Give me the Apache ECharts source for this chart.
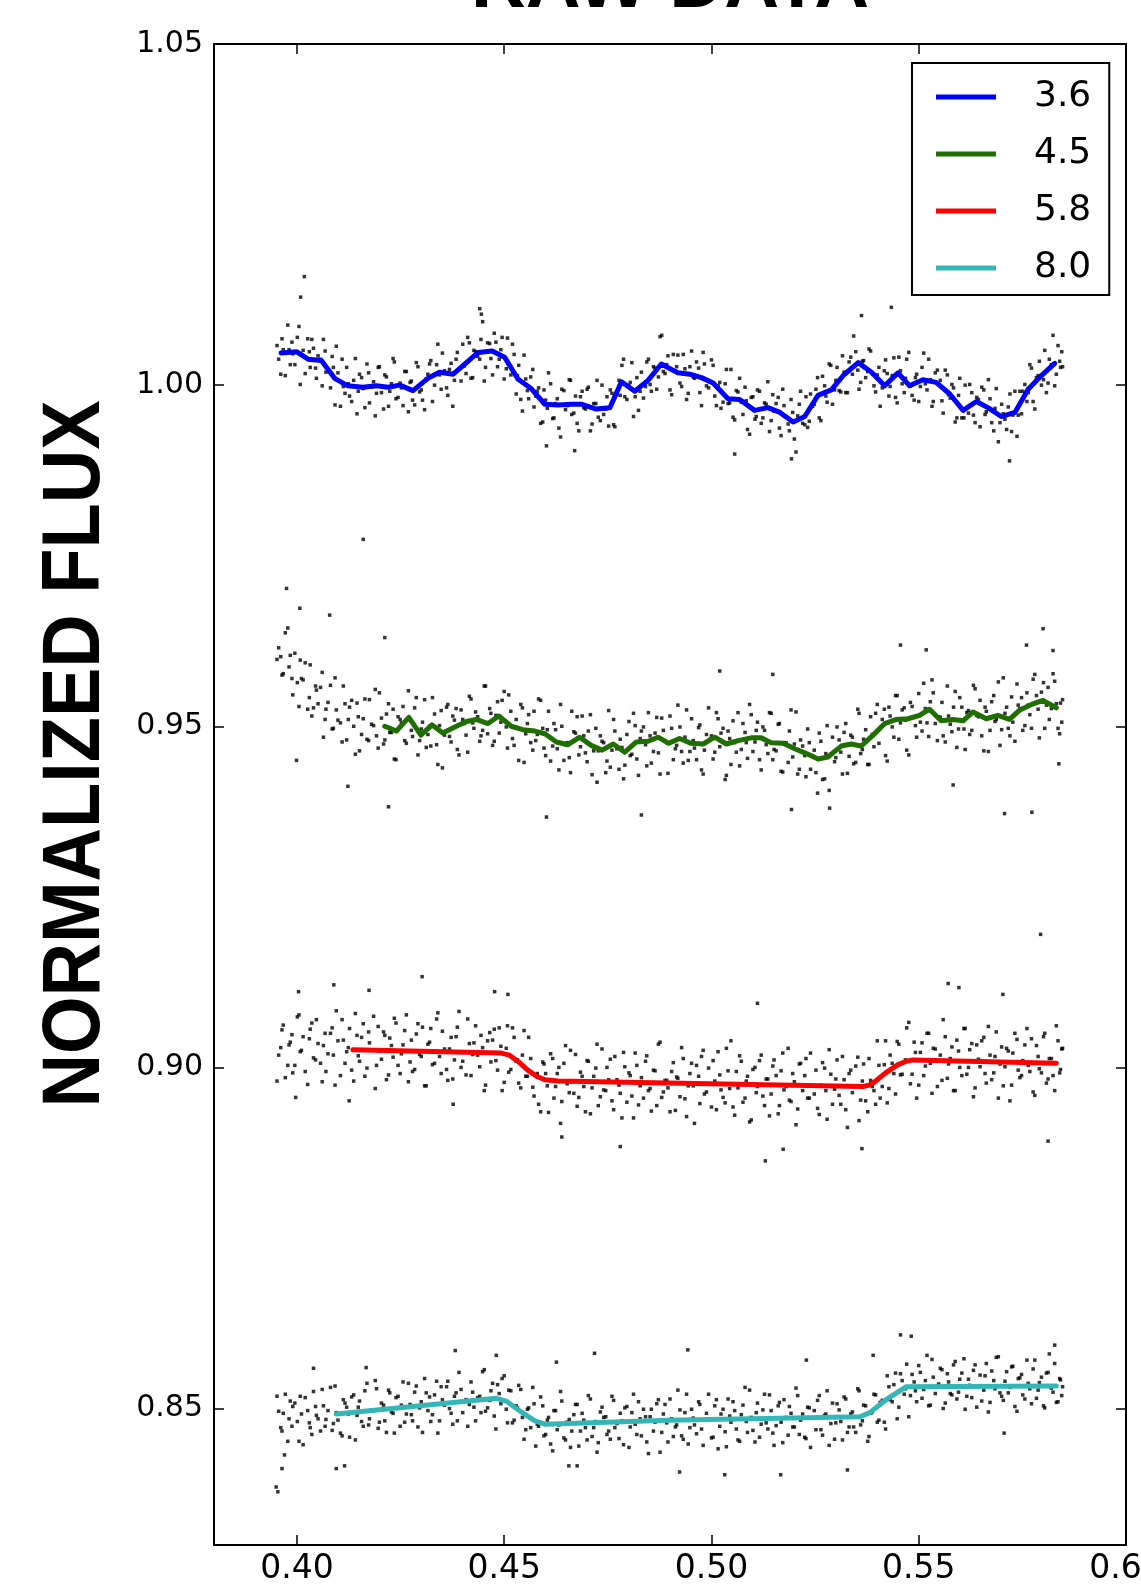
<!DOCTYPE html>
<html><head><meta charset="utf-8">
<script src="https://cdn.jsdelivr.net/npm/echarts@6/dist/echarts.min.js"></script>
<style>html,body{margin:0;padding:0;background:#fff}#chart{width:1141px;height:1592px}</style>
</head><body><div id="chart"></div>
<script>
// ---- tick labels ----
const xTicks = [0.40, 0.45, 0.50, 0.55, 0.60];
const yTicks = [0.85, 0.90, 0.95, 1.00, 1.05];
const bandNames = ['3.6', '4.5', '5.8', '8.0'];

// ---- raw photometry, first frame set: orbital phase (shared by all channels) ----
const phaseA = [
0.3952,0.3961,0.3967,0.3978,0.3984,0.3990,0.4001,0.4008,0.4015,0.4026,
0.4032,0.4040,0.4047,0.4057,0.4064,0.4070,0.4081,0.4088,0.4095,0.4105,
0.4112,0.4120,0.4127,0.4137,0.4145,0.4151,0.4160,0.4169,0.4175,0.4185,
0.4192,0.4199,0.4209,0.4216,0.4224,0.4232,0.4239,0.4249,0.4256,0.4264,
0.4273,0.4279,0.4288,0.4296,0.4303,0.4312,0.4320,0.4327,0.4337,0.4344,
0.4351,0.4361,0.4368,0.4376,0.4384,0.4391,0.4400,0.4408,0.4416,0.4424,
0.4431,0.4441,0.4448,0.4455,0.4465,0.4472,0.4480,0.4488,0.4495,0.4505,
0.4511,0.4520,0.4529,0.4535,0.4544,0.4552,0.4559,0.4569,0.4576,0.4583,
0.4593,0.4600,0.4607,0.4617,0.4624,0.4632,0.4639,0.4648,0.4657,0.4663,
0.4672,0.4680,0.4688,0.4696,0.4703,0.4712,0.4721,0.4727,0.4736,0.4745,
0.4752,0.4760,0.4767,0.4777,0.4784,0.4791,0.4801,0.4808,0.4816,0.4824,
0.4831,0.4841,0.4848,0.4855,0.4864,0.4872,0.4880,0.4888,0.4895,0.4904,
0.4913,0.4919,0.4928,0.4936,0.4944,0.4952,0.4959,0.4969,0.4976,0.4983,
0.4993,0.5000,0.5008,0.5016,0.5023,0.5033,0.5040,0.5047,0.5056,0.5064,
0.5072,0.5081,0.5087,0.5096,0.5105,0.5111,0.5120,0.5128,0.5136,0.5144,
0.5151,0.5161,0.5168,0.5175,0.5185,0.5192,0.5200,0.5208,0.5215,0.5225,
0.5232,0.5239,0.5248,0.5256,0.5264,0.5273,0.5279,0.5288,0.5297,0.5303,
0.5312,0.5320,0.5328,0.5336,0.5343,0.5353,0.5360,0.5367,0.5377,0.5384,
0.5392,0.5400,0.5407,0.5417,0.5424,0.5431,0.5440,0.5448,0.5456,0.5465,
0.5471,0.5480,0.5489,0.5495,0.5504,0.5512,0.5520,0.5528,0.5535,0.5545,
0.5552,0.5559,0.5569,0.5576,0.5584,0.5592,0.5599,0.5609,0.5616,0.5623,
0.5632,0.5640,0.5648,0.5657,0.5663,0.5672,0.5681,0.5687,0.5696,0.5704,
0.5712,0.5720,0.5727,0.5737,0.5744,0.5751,0.5761,0.5768,0.5776,0.5784,
0.5791,0.5801,0.5808,0.5815,0.5824,0.5832,0.5840,0.5847];

const flux36A = [
1.0058,1.0016,1.0052,1.0088,1.0030,1.0046,1.0070,1.0001,1.0051,1.0068,
1.0026,1.0054,1.0010,1.0038,1.0067,1.0019,0.9996,1.0026,1.0057,0.9969,
0.9998,1.0026,0.9984,1.0007,0.9958,1.0016,0.9995,1.0031,0.9974,1.0005,
0.9988,1.0027,0.9965,1.0012,0.9991,1.0039,0.9980,1.0003,0.9970,1.0020,
1.0004,0.9978,1.0033,0.9990,0.9978,1.0009,1.0031,0.9976,1.0030,1.0015,
1.0047,0.9996,1.0023,0.9969,1.0038,1.0023,1.0060,1.0017,1.0062,1.0011,
1.0049,1.0038,1.0093,1.0026,1.0061,1.0015,1.0063,1.0038,1.0070,1.0024,
1.0031,1.0060,0.9987,1.0029,0.9962,1.0009,0.9980,1.0023,0.9984,0.9996,
0.9946,0.9978,1.0018,0.9951,0.9973,0.9937,0.9994,0.9964,1.0008,0.9957,
0.9984,0.9933,0.9991,0.9965,0.9997,0.9943,0.9973,0.9953,1.0000,0.9965,
0.9940,0.9988,0.9939,1.0007,1.0029,0.9983,0.9999,1.0033,0.9983,0.9963,
1.0019,0.9998,1.0038,0.9991,1.0025,1.0012,1.0073,1.0017,1.0043,0.9986,
1.0021,1.0044,0.9998,1.0024,0.9988,1.0050,1.0010,1.0025,0.9970,1.0031,
0.9996,1.0037,0.9984,0.9999,0.9966,1.0002,0.9973,1.0023,0.9949,0.9990,
0.9975,0.9997,0.9935,0.9982,0.9950,0.9993,0.9944,0.9974,1.0005,0.9948,
0.9962,0.9982,0.9926,0.9970,0.9943,0.9979,0.9921,0.9955,0.9991,0.9942,
0.9938,0.9987,0.9972,1.0011,0.9948,0.9999,0.9975,1.0029,0.9993,1.0026,
0.9990,1.0019,0.9989,1.0041,1.0072,1.0022,1.0004,1.0036,1.0020,1.0050,
0.9999,1.0015,0.9969,1.0021,1.0017,0.9998,1.0040,0.9974,1.0021,0.9989,
1.0038,0.9999,0.9978,1.0016,0.9998,1.0047,0.9993,1.0008,0.9976,1.0022,
1.0007,0.9959,1.0015,0.9981,0.9996,0.9952,1.0010,0.9952,0.9967,1.0001,
0.9956,0.9982,0.9939,0.9993,0.9961,0.9980,0.9933,0.9995,0.9945,0.9958,
0.9935,0.9987,0.9956,0.9925,0.9991,0.9991,0.9976,1.0030,0.9976,1.0011,
1.0035,1.0008,0.9989,1.0038,1.0073,1.0016,1.0035,1.0027];

const flux45A = [
0.9598,0.9602,0.9577,0.9644,0.9604,0.9546,0.9564,0.9597,0.9568,0.9525,
0.9590,0.9527,0.9553,0.9557,0.9484,0.9525,0.9560,0.9497,0.9524,0.9505,
0.9559,0.9480,0.9528,0.9500,0.9534,0.9464,0.9511,0.9481,0.9539,0.9501,
0.9486,0.9549,0.9474,0.9518,0.9491,0.9525,0.9451,0.9510,0.9529,0.9475,
0.9510,0.9485,0.9542,0.9479,0.9506,0.9469,0.9500,0.9542,0.9473,0.9501,
0.9439,0.9528,0.9485,0.9515,0.9526,0.9458,0.9510,0.9487,0.9544,0.9505,
0.9521,0.9478,0.9494,0.9559,0.9526,0.9472,0.9516,0.9490,0.9538,0.9499,
0.9546,0.9482,0.9510,0.9450,0.9527,0.9489,0.9517,0.9465,0.9479,0.9540,
0.9497,0.9457,0.9522,0.9471,0.9495,0.9436,0.9500,0.9473,0.9454,0.9522,
0.9490,0.9458,0.9515,0.9461,0.9493,0.9429,0.9497,0.9464,0.9478,0.9432,
0.9523,0.9465,0.9493,0.9437,0.9469,0.9443,0.9507,0.9459,0.9501,0.9428,
0.9493,0.9473,0.9520,0.9446,0.9490,0.9461,0.9512,0.9479,0.9431,0.9497,
0.9467,0.9531,0.9463,0.9484,0.9450,0.9511,0.9468,0.9498,0.9436,0.9465,
0.9527,0.9486,0.9462,0.9511,0.9490,0.9422,0.9493,0.9444,0.9476,0.9520,
0.9466,0.9491,0.9453,0.9517,0.9477,0.9506,0.9436,0.9494,0.9460,0.9519,
0.9466,0.9503,0.9434,0.9476,0.9447,0.9524,0.9474,0.9430,0.9480,0.9457,
0.9496,0.9437,0.9465,0.9402,0.9478,0.9423,0.9501,0.9459,0.9448,0.9499,
0.9462,0.9491,0.9431,0.9487,0.9445,0.9525,0.9460,0.9481,0.9444,0.9514,
0.9470,0.9532,0.9497,0.9525,0.9449,0.9515,0.9484,0.9545,0.9505,0.9527,
0.9465,0.9535,0.9513,0.9484,0.9506,0.9563,0.9505,0.9536,0.9549,0.9479,
0.9513,0.9486,0.9559,0.9503,0.9528,0.9469,0.9542,0.9496,0.9520,0.9488,
0.9560,0.9516,0.9538,0.9464,0.9522,0.9494,0.9545,0.9510,0.9472,0.9571,
0.9528,0.9486,0.9506,0.9562,0.9526,0.9494,0.9549,0.9517,0.9569,0.9545,
0.9483,0.9564,0.9531,0.9510,0.9577,0.9533,0.9489,0.9539];

const flux58A = [
0.8980,0.9029,0.9062,0.9003,0.9037,0.8992,0.9074,0.9023,0.9045,0.8975,
0.9056,0.9014,0.9070,0.9006,0.9032,0.8994,0.9050,0.9018,0.9083,0.8988,
0.9040,0.9023,0.9057,0.8980,0.9047,0.9009,0.9064,0.8999,0.9036,0.9075,
0.9003,0.9024,0.9052,0.8982,0.9043,0.9015,0.9065,0.8991,0.9033,0.9077,
0.9008,0.8994,0.9049,0.9019,0.9059,0.8973,0.9037,0.9004,0.9071,0.9016,
0.9053,0.8997,0.9027,0.8983,0.9045,0.9082,0.9009,0.8989,0.9035,0.9019,
0.9061,0.9001,0.9029,0.8974,0.9051,0.9040,0.9010,0.9058,0.8966,0.9028,
0.8993,0.9058,0.9009,0.8977,0.9018,0.8987,0.9044,0.8971,0.8989,0.8946,
0.9008,0.8991,0.8934,0.9013,0.8972,0.9000,0.8950,0.9032,0.8963,0.8979,
0.9019,0.8956,0.8987,0.8935,0.9009,0.8970,0.8999,0.8944,0.9027,0.8966,
0.8982,0.8951,0.9016,0.8974,0.8926,0.9001,0.8992,0.8958,0.9021,0.8945,
0.8985,0.9009,0.8966,0.8936,0.8995,0.9034,0.8956,0.8981,0.8970,0.8994,
0.8937,0.8984,0.9029,0.8954,0.8973,0.9006,0.8918,0.8987,0.9016,0.8961,
0.8999,0.8942,0.8980,0.9023,0.8967,0.8948,0.8995,0.9039,0.8930,0.8970,
0.9009,0.8955,0.8987,0.8923,0.9000,0.8972,0.9018,0.8944,0.8983,0.8961,
0.9011,0.8932,0.8995,0.8967,0.9028,0.8950,0.8979,0.8939,0.9006,0.8988,
0.8955,0.9021,0.8961,0.8940,0.8974,0.8999,0.8924,0.8990,0.8968,0.9011,
0.8946,0.8982,0.8912,0.8996,0.8972,0.9015,0.8952,0.9005,0.8935,0.8981,
0.8966,0.9039,0.8955,0.9004,0.8948,0.9018,0.8991,0.9038,0.8989,0.9008,
0.9058,0.8976,0.9037,0.8955,0.9022,0.8988,0.9050,0.9006,0.9028,0.8972,
0.9018,0.9070,0.8984,0.9013,0.8966,0.9040,0.9000,0.9057,0.8990,0.9026,
0.8957,0.9033,0.9001,0.9044,0.8977,0.9018,0.8992,0.9052,0.9005,0.8973,
0.9028,0.8951,0.9021,0.9041,0.8985,0.9010,0.9057,0.8994,0.8964,0.9032,
0.8998,0.9045,0.8977,0.9013,0.8988,0.9061,0.8992,0.9028];

const flux80A = [
0.8518,0.8472,0.8493,0.8452,0.8511,0.8503,0.8481,0.8518,0.8447,0.8497,
0.8472,0.8525,0.8490,0.8467,0.8504,0.8484,0.8531,0.8478,0.8494,0.8464,
0.8513,0.8502,0.8458,0.8520,0.8490,0.8511,0.8474,0.8537,0.8485,0.8497,
0.8529,0.8480,0.8505,0.8465,0.8523,0.8493,0.8516,0.8474,0.8539,0.8492,
0.8506,0.8482,0.8533,0.8501,0.8465,0.8523,0.8517,0.8491,0.8540,0.8482,
0.8513,0.8532,0.8500,0.8477,0.8523,0.8553,0.8494,0.8513,0.8506,0.8524,
0.8482,0.8518,0.8554,0.8496,0.8512,0.8537,0.8470,0.8522,0.8544,0.8499,
0.8527,0.8479,0.8504,0.8534,0.8487,0.8469,0.8501,0.8531,0.8445,0.8474,
0.8504,0.8462,0.8487,0.8438,0.8497,0.8476,0.8511,0.8454,0.8484,0.8467,
0.8506,0.8445,0.8493,0.8472,0.8519,0.8459,0.8481,0.8450,0.8502,0.8488,
0.8467,0.8518,0.8472,0.8456,0.8482,0.8501,0.8443,0.8494,0.8477,0.8510,
0.8460,0.8488,0.8434,0.8499,0.8480,0.8513,0.8465,0.8506,0.8451,0.8485,
0.8473,0.8527,0.8460,0.8494,0.8448,0.8499,0.8476,0.8510,0.8470,0.8483,
0.8521,0.8457,0.8504,0.8441,0.8492,0.8466,0.8514,0.8480,0.8497,0.8454,
0.8491,0.8531,0.8465,0.8487,0.8451,0.8508,0.8477,0.8521,0.8470,0.8497,
0.8446,0.8504,0.8480,0.8513,0.8461,0.8493,0.8473,0.8519,0.8483,0.8458,
0.8502,0.8443,0.8497,0.8512,0.8469,0.8490,0.8526,0.8478,0.8455,0.8507,
0.8481,0.8517,0.8465,0.8492,0.8473,0.8529,0.8476,0.8505,0.8452,0.8493,
0.8521,0.8480,0.8509,0.8480,0.8548,0.8513,0.8535,0.8485,0.8551,0.8521,
0.8565,0.8519,0.8539,0.8510,0.8553,0.8528,0.8578,0.8505,0.8546,0.8533,
0.8559,0.8500,0.8551,0.8522,0.8564,0.8514,0.8543,0.8573,0.8518,0.8534,
0.8556,0.8502,0.8549,0.8527,0.8566,0.8509,0.8541,0.8575,0.8523,0.8512,
0.8554,0.8531,0.8562,0.8496,0.8545,0.8520,0.8571,0.8529,0.8558,0.8515,
0.8538,0.8504,0.8552,0.8580,0.8524,0.8509,0.8544,0.8532];

// ---- raw photometry, second frame set (interleaved) ----
const phaseB = [
0.3956,0.3964,0.3972,0.3981,0.3988,0.3995,0.4005,0.4011,0.4020,0.4030,
0.4036,0.4045,0.4051,0.4061,0.4068,0.4075,0.4085,0.4092,0.4099,0.4109,
0.4116,0.4124,0.4132,0.4141,0.4148,0.4156,0.4164,0.4173,0.4180,0.4189,
0.4196,0.4204,0.4212,0.4221,0.4228,0.4235,0.4244,0.4252,0.4260,0.4269,
0.4276,0.4284,0.4292,0.4300,0.4308,0.4316,0.4323,0.4332,0.4340,0.4348,
0.4356,0.4364,0.4372,0.4380,0.4387,0.4396,0.4404,0.4412,0.4420,0.4427,
0.4436,0.4444,0.4452,0.4460,0.4468,0.4476,0.4484,0.4492,0.4500,0.4508,
0.4516,0.4524,0.4532,0.4540,0.4548,0.4556,0.4564,0.4572,0.4580,0.4588,
0.4596,0.4604,0.4612,0.4620,0.4628,0.4636,0.4644,0.4652,0.4660,0.4668,
0.4676,0.4684,0.4692,0.4700,0.4708,0.4716,0.4724,0.4732,0.4740,0.4748,
0.4756,0.4764,0.4772,0.4780,0.4788,0.4796,0.4804,0.4812,0.4820,0.4828,
0.4836,0.4844,0.4852,0.4860,0.4868,0.4876,0.4884,0.4892,0.4900,0.4908,
0.4916,0.4924,0.4932,0.4940,0.4948,0.4956,0.4964,0.4972,0.4980,0.4988,
0.4996,0.5004,0.5012,0.5020,0.5028,0.5036,0.5044,0.5052,0.5060,0.5068,
0.5076,0.5084,0.5092,0.5100,0.5108,0.5116,0.5124,0.5132,0.5140,0.5148,
0.5156,0.5164,0.5172,0.5180,0.5188,0.5196,0.5204,0.5212,0.5220,0.5228,
0.5236,0.5244,0.5252,0.5260,0.5268,0.5276,0.5284,0.5292,0.5300,0.5308,
0.5316,0.5324,0.5332,0.5340,0.5348,0.5356,0.5364,0.5372,0.5380,0.5388,
0.5396,0.5404,0.5412,0.5420,0.5428,0.5436,0.5444,0.5452,0.5460,0.5468,
0.5476,0.5484,0.5492,0.5500,0.5508,0.5516,0.5524,0.5532,0.5540,0.5548,
0.5556,0.5564,0.5572,0.5580,0.5588,0.5596,0.5604,0.5612,0.5620,0.5628,
0.5636,0.5644,0.5652,0.5660,0.5668,0.5676,0.5684,0.5692,0.5700,0.5708,
0.5716,0.5724,0.5732,0.5740,0.5748,0.5756,0.5764,0.5772,0.5780,0.5788,
0.5796,0.5804,0.5812,0.5820,0.5828,0.5836,0.5842,0.5845];

const flux36B = [
1.0038,1.0068,1.0014,1.0052,1.0063,1.0030,1.0086,1.0044,1.0017,1.0049,
1.0067,1.0025,1.0043,0.9999,1.0050,1.0022,1.0042,0.9971,1.0018,1.0038,
0.9988,1.0002,0.9976,1.0039,0.9991,1.0011,0.9967,1.0018,0.9997,0.9955,
1.0026,0.9989,1.0015,0.9969,1.0002,1.0034,0.9982,0.9996,1.0020,0.9961,
1.0006,0.9971,1.0027,0.9993,0.9964,1.0016,1.0036,1.0000,1.0060,0.9994,
1.0021,0.9985,1.0032,1.0007,1.0048,1.0006,1.0028,1.0070,1.0010,1.0051,
1.0042,1.0067,1.0006,1.0062,1.0039,1.0076,1.0027,1.0052,1.0009,1.0069,
1.0015,1.0045,1.0014,0.9979,1.0044,0.9992,1.0012,0.9968,0.9991,0.9944,
0.9993,0.9966,1.0002,0.9952,0.9980,0.9924,0.9992,0.9970,1.0007,0.9959,
0.9944,0.9983,0.9967,0.9994,0.9933,0.9973,1.0007,0.9948,0.9957,0.9983,
0.9993,0.9942,0.9986,0.9985,1.0038,0.9979,1.0004,0.9954,1.0011,0.9991,
0.9981,1.0034,1.0001,1.0027,0.9994,1.0071,1.0020,1.0030,0.9993,1.0045,
1.0027,1.0003,1.0045,0.9979,1.0027,1.0012,1.0034,0.9989,1.0048,0.9999,
1.0005,1.0029,0.9970,1.0004,0.9975,1.0023,0.9974,0.9953,0.9992,1.0010,
0.9957,0.9977,0.9928,0.9983,0.9954,0.9991,0.9952,0.9972,0.9932,0.9986,
0.9973,0.9937,0.9994,0.9954,0.9933,0.9960,0.9902,0.9972,0.9944,0.9983,
0.9947,0.9969,0.9994,0.9952,1.0013,0.9984,1.0031,0.9972,1.0007,0.9992,
1.0043,0.9989,1.0034,1.0016,1.0049,0.9994,1.0035,1.0011,1.0053,1.0017,
0.9990,1.0026,0.9996,1.0037,0.9984,1.0014,0.9982,1.0041,1.0002,1.0010,
1.0048,0.9985,1.0011,0.9976,1.0026,1.0002,1.0038,0.9969,1.0018,1.0001,
0.9977,1.0022,0.9986,1.0001,0.9946,0.9985,0.9952,1.0000,0.9959,0.9989,
0.9945,0.9979,0.9997,0.9957,1.0008,0.9945,0.9966,0.9917,0.9972,0.9950,
0.9968,0.9932,0.9991,0.9956,0.9958,1.0001,0.9989,1.0025,0.9965,1.0014,
1.0000,1.0051,1.0003,1.0030,0.9999,1.0058,1.0026,1.0049];

const flux45B = [
0.9615,0.9575,0.9637,0.9587,0.9570,0.9607,0.9529,0.9570,0.9593,0.9542,
0.9515,0.9559,0.9533,0.9579,0.9510,0.9535,0.9496,0.9571,0.9509,0.9477,
0.9533,0.9510,0.9538,0.9459,0.9514,0.9488,0.9540,0.9479,0.9503,0.9554,
0.9468,0.9512,0.9480,0.9533,0.9491,0.9452,0.9514,0.9505,0.9479,0.9552,
0.9494,0.9527,0.9458,0.9496,0.9539,0.9488,0.9471,0.9518,0.9444,0.9523,
0.9487,0.9532,0.9477,0.9509,0.9466,0.9524,0.9504,0.9462,0.9540,0.9497,
0.9514,0.9486,0.9559,0.9489,0.9519,0.9478,0.9536,0.9506,0.9551,0.9468,
0.9522,0.9472,0.9497,0.9532,0.9447,0.9504,0.9476,0.9522,0.9488,0.9538,
0.9468,0.9495,0.9449,0.9504,0.9467,0.9532,0.9450,0.9476,0.9432,0.9492,
0.9514,0.9470,0.9486,0.9448,0.9517,0.9464,0.9418,0.9486,0.9476,0.9449,
0.9440,0.9510,0.9467,0.9481,0.9423,0.9488,0.9457,0.9519,0.9452,0.9482,
0.9499,0.9442,0.9486,0.9463,0.9513,0.9430,0.9494,0.9476,0.9515,0.9451,
0.9472,0.9499,0.9446,0.9524,0.9463,0.9479,0.9451,0.9502,0.9430,0.9488,
0.9481,0.9452,0.9520,0.9470,0.9497,0.9428,0.9482,0.9508,0.9462,0.9442,
0.9504,0.9476,0.9532,0.9463,0.9494,0.9451,0.9499,0.9473,0.9520,0.9451,
0.9464,0.9504,0.9433,0.9476,0.9493,0.9455,0.9521,0.9437,0.9471,0.9426,
0.9476,0.9456,0.9432,0.9490,0.9422,0.9460,0.9406,0.9484,0.9454,0.9480,
0.9430,0.9504,0.9456,0.9484,0.9447,0.9519,0.9466,0.9495,0.9444,0.9488,
0.9519,0.9475,0.9510,0.9457,0.9528,0.9499,0.9545,0.9481,0.9524,0.9509,
0.9458,0.9529,0.9501,0.9548,0.9493,0.9526,0.9485,0.9568,0.9504,0.9514,
0.9535,0.9477,0.9515,0.9492,0.9551,0.9496,0.9528,0.9466,0.9523,0.9494,
0.9555,0.9514,0.9486,0.9528,0.9463,0.9536,0.9507,0.9565,0.9495,0.9519,
0.9497,0.9543,0.9478,0.9531,0.9542,0.9501,0.9531,0.9497,0.9576,0.9525,
0.9550,0.9497,0.9557,0.9526,0.9566,0.9497,0.9534,0.9506];

const flux58B = [
0.9018,0.9055,0.8985,0.9033,0.9048,0.9003,0.9077,0.9025,0.8994,0.9042,
0.9065,0.9011,0.9035,0.8979,0.9050,0.9020,0.9058,0.8974,0.9039,0.9070,
0.9006,0.9029,0.8996,0.9079,0.9017,0.9044,0.8987,0.9052,0.9025,0.8969,
0.9060,0.9012,0.9047,0.8989,0.9032,0.9072,0.9003,0.9020,0.9054,0.8979,
0.9040,0.8997,0.9064,0.9016,0.8973,0.9034,0.9057,0.9006,0.9080,0.8991,
0.9027,0.8981,0.9044,0.9011,0.9059,0.9000,0.9023,0.9071,0.8988,0.9036,
0.9018,0.9047,0.8966,0.9039,0.9008,0.9056,0.8996,0.9031,0.8978,0.9061,
0.8997,0.9044,0.9011,0.8970,0.9054,0.8987,0.9013,0.8958,0.8991,0.8935,
0.9005,0.8973,0.9020,0.8955,0.8991,0.8918,0.9006,0.8976,0.9025,0.8962,
0.8943,0.8993,0.8972,0.9010,0.8932,0.8987,0.9034,0.8957,0.8967,0.9000,
0.9012,0.8938,0.8982,0.8962,0.9022,0.8949,0.8988,0.8926,0.9003,0.8973,
0.8955,0.9017,0.8969,0.8996,0.8944,0.9037,0.8964,0.8981,0.8935,0.9007,
0.8986,0.8957,0.9013,0.8928,0.8991,0.8973,0.9003,0.8947,0.9025,0.8964,
0.8976,0.9010,0.8938,0.8989,0.8956,0.9028,0.8969,0.8942,0.8994,0.9017,
0.8949,0.8980,0.8920,0.8997,0.8963,0.9010,0.8958,0.8983,0.8929,0.9002,
0.8988,0.8944,0.9021,0.8972,0.8952,0.8991,0.8916,0.9005,0.8966,0.9013,
0.8955,0.8974,0.8996,0.8931,0.9007,0.8966,0.9026,0.8946,0.8983,0.8959,
0.9016,0.8938,0.8991,0.8963,0.9002,0.8922,0.8980,0.8951,0.9013,0.8972,
0.8946,0.9003,0.8972,0.9039,0.8969,0.9006,0.8961,0.9034,0.8990,0.9011,
0.9066,0.8990,0.9022,0.8974,0.9036,0.9002,0.9050,0.8962,0.9027,0.9009,
0.8981,0.9045,0.9005,0.9030,0.8966,0.9024,0.8988,0.9057,0.9000,0.9035,
0.8970,0.9012,0.9039,0.8991,0.9060,0.8982,0.9016,0.8955,0.9030,0.9001,
0.9024,0.8974,0.9050,0.8996,0.8988,0.9033,0.9003,0.9042,0.8959,0.9016,
0.8992,0.9050,0.8983,0.9013,0.8966,0.9039,0.8997,0.9027];

const flux80B = [
0.8496,0.8467,0.8521,0.8485,0.8474,0.8508,0.8452,0.8492,0.8516,0.8479,
0.8462,0.8503,0.8485,0.8528,0.8474,0.8497,0.8468,0.8533,0.8483,0.8460,
0.8508,0.8492,0.8517,0.8454,0.8502,0.8481,0.8526,0.8476,0.8498,0.8541,
0.8471,0.8508,0.8482,0.8527,0.8495,0.8464,0.8518,0.8505,0.8480,0.8537,
0.8491,0.8524,0.8473,0.8510,0.8544,0.8497,0.8481,0.8520,0.8464,0.8532,
0.8505,0.8540,0.8493,0.8518,0.8482,0.8528,0.8511,0.8474,0.8539,0.8502,
0.8516,0.8494,0.8557,0.8501,0.8526,0.8489,0.8535,0.8507,0.8548,0.8479,
0.8526,0.8483,0.8501,0.8528,0.8455,0.8499,0.8472,0.8507,0.8477,0.8517,
0.8460,0.8483,0.8448,0.8497,0.8469,0.8525,0.8457,0.8480,0.8443,0.8491,
0.8506,0.8467,0.8483,0.8454,0.8514,0.8472,0.8436,0.8495,0.8487,0.8462,
0.8455,0.8512,0.8478,0.8493,0.8447,0.8503,0.8473,0.8521,0.8462,0.8485,
0.8499,0.8451,0.8488,0.8467,0.8507,0.8436,0.8492,0.8479,0.8514,0.8459,
0.8476,0.8498,0.8455,0.8521,0.8472,0.8486,0.8463,0.8506,0.8446,0.8493,
0.8484,0.8458,0.8513,0.8474,0.8499,0.8444,0.8489,0.8510,0.8470,0.8452,
0.8505,0.8481,0.8527,0.8468,0.8494,0.8458,0.8498,0.8479,0.8520,0.8464,
0.8475,0.8509,0.8450,0.8487,0.8503,0.8473,0.8530,0.8462,0.8492,0.8456,
0.8501,0.8486,0.8469,0.8519,0.8461,0.8492,0.8446,0.8508,0.8479,0.8498,
0.8454,0.8514,0.8473,0.8495,0.8465,0.8526,0.8482,0.8504,0.8459,0.8495,
0.8520,0.8483,0.8512,0.8470,0.8532,0.8510,0.8552,0.8502,0.8541,0.8529,
0.8488,0.8550,0.8526,0.8563,0.8515,0.8541,0.8504,0.8572,0.8522,0.8536,
0.8557,0.8508,0.8539,0.8520,0.8569,0.8524,0.8552,0.8499,0.8543,0.8516,
0.8564,0.8532,0.8511,0.8548,0.8495,0.8555,0.8529,0.8576,0.8518,0.8540,
0.8523,0.8561,0.8503,0.8544,0.8550,0.8514,0.8537,0.8507,0.8571,0.8527,
0.8546,0.8501,0.8553,0.8530,0.8566,0.8510,0.8542,0.8519];

// ---- isolated outlying points [phase, flux] ----
const outliers36 = [[0.4018,1.0159],[0.4009,1.0129],[0.4441,1.0112],[0.4445,1.0104],[0.5434,1.0114],[0.5362,1.0102],
  [0.4670,0.9904],[0.4602,0.9911],[0.5719,0.9889],[0.5193,0.9892],[0.5056,0.9899]];
const outliers45 = [[0.3975,0.9702],[0.4007,0.9673],[0.4079,0.9663],[0.3999,0.9450],[0.4123,0.9412],[0.4221,0.9382],
  [0.4602,0.9367],[0.4831,0.9370],[0.5800,0.9643],[0.5456,0.9619],[0.5760,0.9619],[0.5518,0.9612],[0.5824,0.9611],
  [0.5020,0.9581],[0.5148,0.9576],[0.5707,0.9372],[0.5193,0.9378],[0.5285,0.9380],[0.5583,0.9414],[0.5838,0.9445],
  [0.4212,0.9630],[0.4160,0.9774],[0.5773,0.9374]];
const outliers58 = [[0.4302,0.9133],[0.4089,0.9121],[0.4004,0.9111],[0.4174,0.9113],[0.4477,0.9111],[0.4509,0.9107],
  [0.3997,0.8956],[0.4126,0.8951],[0.4377,0.8946],[0.4780,0.8884],[0.4639,0.8898],[0.5571,0.9123],[0.5597,0.9117],
  [0.5703,0.9107],[0.5111,0.9094],[0.5130,0.8863],[0.5363,0.8881],[0.5173,0.8880],[0.5812,0.8892],[0.5794,0.9195]];
const outliers80 = [[0.3950,0.8385],[0.3954,0.8378],[0.3964,0.8412],[0.3970,0.8432],[0.4382,0.8585],[0.4481,0.8578],
  [0.4167,0.8560],[0.4040,0.8559],[0.4095,0.8412],[0.4115,0.8416],[0.4656,0.8416],[0.4676,0.8416],[0.4718,0.8581],
  [0.4626,0.8568],[0.4923,0.8407],[0.5032,0.8403],[0.5167,0.8403],[0.5328,0.8410],[0.4943,0.8586],[0.5229,0.8571],
  [0.5390,0.8578],[0.5456,0.8608],[0.5482,0.8606],[0.5828,0.8593],[0.5706,0.8464]];

// ---- binned / model curves ----
const fitPhase36 = [0.3962,0.3999,0.4027,0.4059,0.4091,0.4123,0.4159,0.4192,0.4220,0.4248,0.4280,0.4316,0.4344,0.4377,0.4409,
  0.4437,0.4471,0.4501,0.4533,0.4565,0.4598,0.4630,0.4662,0.4686,0.4722,0.4755,0.4783,0.4815,0.4847,0.4879,0.4919,0.4948,
  0.4976,0.5004,0.5040,0.5068,0.5104,0.5136,0.5165,0.5197,0.5225,0.5257,0.5289,0.5321,0.5354,0.5386,0.5418,0.5450,0.5478,
  0.5510,0.5542,0.5575,0.5607,0.5639,0.5667,0.5699,0.5732,0.5764,0.5796,0.5828];
const fit36 = [1.0047,1.0049,1.0038,1.0036,1.0010,0.9999,0.9997,0.9999,0.9997,1.0000,0.9992,1.0010,1.0019,1.0016,1.0033,
  1.0048,1.0050,1.0041,1.0009,0.9995,0.9972,0.9971,0.9972,0.9972,0.9965,0.9967,1.0005,0.9991,1.0007,1.0031,1.0018,1.0016,
  1.0011,1.0003,0.9980,0.9979,0.9963,0.9967,0.9960,0.9946,0.9954,0.9985,0.9993,1.0016,1.0033,1.0019,0.9999,1.0018,0.9999,
  1.0008,1.0004,0.9987,0.9963,0.9976,0.9967,0.9954,0.9960,0.9994,1.0014,1.0032];
const fitPhase45 = [0.4212,0.4240,0.4270,0.4299,0.4326,0.4352,0.4381,0.4409,0.4433,0.4461,0.4487,0.4517,0.4545,0.4574,0.4598,
  0.4626,0.4654,0.4682,0.4710,0.4736,0.4763,0.4791,0.4819,0.4847,0.4871,0.4897,0.4923,0.4951,0.4980,0.5008,0.5036,0.5064,
  0.5096,0.5120,0.5144,0.5173,0.5201,0.5229,0.5257,0.5281,0.5313,0.5337,0.5361,0.5390,0.5418,0.5446,0.5474,0.5502,0.5526,
  0.5554,0.5583,0.5607,0.5631,0.5663,0.5691,0.5719,0.5744,0.5772,0.5800,0.5832];
const fit45 = [0.9500,0.9493,0.9513,0.9487,0.9502,0.9490,0.9499,0.9507,0.9510,0.9504,0.9515,0.9500,0.9495,0.9493,0.9489,
  0.9477,0.9473,0.9484,0.9472,0.9465,0.9474,0.9462,0.9477,0.9478,0.9484,0.9475,0.9482,0.9475,0.9474,0.9484,0.9474,0.9479,
  0.9483,0.9483,0.9476,0.9475,0.9467,0.9460,0.9452,0.9455,0.9471,0.9474,0.9471,0.9487,0.9504,0.9510,0.9511,0.9516,0.9525,
  0.9508,0.9510,0.9508,0.9521,0.9511,0.9516,0.9510,0.9524,0.9532,0.9538,0.9527];
const fitPhase58 = [0.4135,0.4493,0.4513,0.4535,0.4557,0.4578,0.4598,0.4630,0.4895,0.5366,0.5380,0.5394,0.5420,0.5450,0.5470,0.5486,0.5832];
const fit58 = [0.9026,0.9021,0.9018,0.9008,0.8996,0.8987,0.8982,0.8980,0.8977,0.8972,0.8974,0.8979,0.8992,0.9004,0.9009,0.9011,0.9006];
const fitPhase80 = [0.4095,0.4481,0.4505,0.4541,0.4574,0.4598,0.4895,0.5358,0.5382,0.5426,0.5470,0.5832];
const fit80 = [0.8492,0.8515,0.8511,0.8495,0.8482,0.8477,0.8483,0.8488,0.8494,0.8515,0.8532,0.8533];

const lineColors = ['#0000ff', '#1e6e00', '#ff0000', '#35b6b6'];

function pairs(xs, ys) { return xs.map(function (x, i) { return [x, ys[i]]; }); }

const rawSets = [
  pairs(phaseA, flux36A).concat(pairs(phaseB, flux36B), outliers36),
  pairs(phaseA, flux45A).concat(pairs(phaseB, flux45B), outliers45),
  pairs(phaseA, flux58A).concat(pairs(phaseB, flux58B), outliers58),
  pairs(phaseA, flux80A).concat(pairs(phaseB, flux80B), outliers80)
];
const fitSets = [pairs(fitPhase36, fit36), pairs(fitPhase45, fit45), pairs(fitPhase58, fit58), pairs(fitPhase80, fit80)];

const series = [];
rawSets.forEach(function (d, i) {
  series.push({
    type: 'scatter', name: 'raw ' + bandNames[i], data: d,
    xAxisIndex: 0, yAxisIndex: 0,
    symbol: 'rect', symbolSize: 3.5, itemStyle: { color: '#000' },
    silent: true, z: 2, legendHoverLink: false, large: false
  });
});
fitSets.forEach(function (d, i) {
  series.push({
    type: 'line', name: bandNames[i], data: d,
    xAxisIndex: 0, yAxisIndex: 0,
    showSymbol: false, symbol: 'none', smooth: false,
    lineStyle: { color: lineColors[i], width: 5, join: 'round', cap: 'round' },
    itemStyle: { color: lineColors[i] },
    silent: true, z: 3
  });
});

function xAx(pos, showLabel) {
  return {
    type: 'value', position: pos, min: 0.38, max: 0.60,
    axisLine: { show: true, onZero: false, lineStyle: { color: '#000', width: 2 } },
    axisTick: { show: true, inside: true, length: 10, lineStyle: { color: '#000', width: 1.5 }, customValues: xTicks },
    axisLabel: { show: showLabel, customValues: xTicks, formatter: function (v) { return v.toFixed(2); },
      fontSize: 33, fontFamily: 'DejaVu Sans', color: '#000', margin: 8, showMaxLabel: true, showMinLabel: true, hideOverlap: false },
    splitLine: { show: false }
  };
}
function yAx(pos, showLabel) {
  return {
    type: 'value', position: pos, min: 0.83, max: 1.05,
    axisLine: { show: true, onZero: false, lineStyle: { color: '#000', width: 2 } },
    axisTick: { show: true, inside: true, length: 10, lineStyle: { color: '#000', width: 1.5 }, customValues: yTicks },
    axisLabel: { show: showLabel, customValues: yTicks, formatter: function (v) { return v.toFixed(2); },
      fontSize: 30, fontFamily: 'DejaVu Sans', color: '#000', margin: 11, showMaxLabel: true, showMinLabel: true, hideOverlap: false },
    splitLine: { show: false }
  };
}

const chart = echarts.init(document.getElementById('chart'), null, { renderer: 'canvas', width: 1141, height: 1592 });
chart.setOption({
  animation: false,
  backgroundColor: '#ffffff',
  grid: { left: 214, top: 44, right: 15, bottom: 47, containLabel: false, outerBoundsMode: 'none' },
  xAxis: [xAx('bottom', true), xAx('top', false)],
  yAxis: [yAx('left', true), yAx('right', false)],
  legend: {
    data: bandNames, orient: 'vertical', left: 912, top: 63,
    padding: [16, 18, 9, 24], itemWidth: 60, itemHeight: 5, itemGap: 21, icon: 'rect',
    borderColor: '#000', borderWidth: 2, borderRadius: 0, backgroundColor: '#fff',
    selectedMode: false,
    textStyle: { fontSize: 36, fontFamily: 'DejaVu Sans', color: '#000', padding: [0, 0, 0, 33] }
  },
  graphic: [
    { type: 'text', x: 77, y: 754, rotation: Math.PI / 2, scaleY: 1.10, silent: true,
      style: { text: 'NORMALIZED FLUX', font: 'bold 74px "Liberation Sans", Arial, sans-serif', fill: '#000',
        align: 'center', verticalAlign: 'middle', textAlign: 'center', textVerticalAlign: 'middle' } },
    { type: 'text', x: 670, y: -14, silent: true,
      style: { text: 'RAW DATA', font: 'bold 76px "Liberation Sans", Arial, sans-serif', fill: '#000',
        align: 'center', verticalAlign: 'middle', textAlign: 'center', textVerticalAlign: 'middle' } }
  ],
  series: series
});
</script>
</body></html>
